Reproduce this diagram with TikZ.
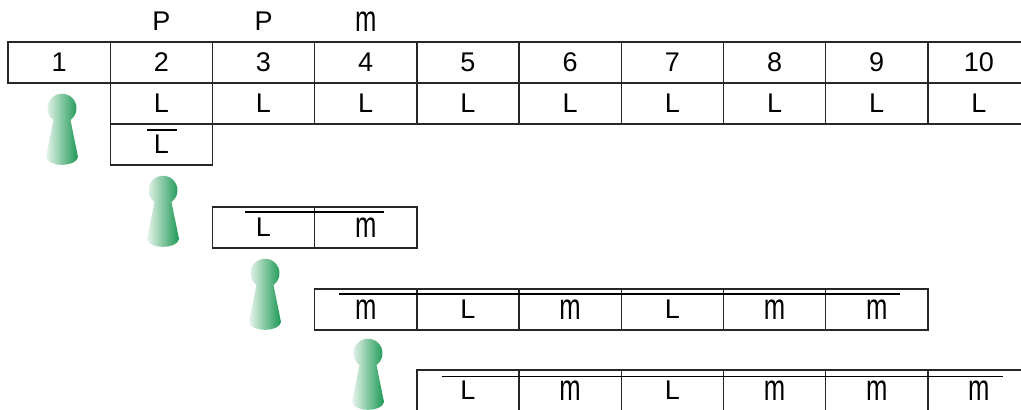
\documentclass[tikz,border=0pt]{standalone}
\usepackage{fontspec}
\setmainfont{Liberation Sans}
\usepackage{graphicx}
\usepackage{tikz}
\usetikzlibrary{positioning}
\definecolor{pawngreen}{RGB}{28,152,84}
\definecolor{pawnlight}{RGB}{234,246,238}
\newcommand\tallm{\scalebox{0.95}[1.35]{m}}

\begin{document}
\begin{tikzpicture}[
      x=0.5pt, y=-0.5pt,
      node distance=0pt,
      cell/.style={
         rectangle,
         draw=black!85,
         line width=0.7pt,
         minimum width=51.1pt,
         minimum height=20.5pt,
         inner sep=0pt,
         outer sep=0pt,
         font=\fontsize{13.5}{16}\selectfont
      },
      toplabel/.style={
         rectangle,
         minimum width=51.1pt,
         minimum height=20.5pt,
         inner sep=0pt,
         outer sep=0pt,
         font=\fontsize{13.5}{16}\selectfont
      },
      bar/.style={line width=0.85pt, draw=black},
      pawn/.pic={
         \shade[left color=pawnlight, right color=pawngreen]
            (-8.5,-45) arc[start angle=125.9, end angle=414.1, radius=14.5]
            -- (16,-8) .. controls (14,2.5) and (-14,2.5) .. (-16,-8) -- cycle;
      }
    ]
    \useasboundingbox (0,0) rectangle (1021,410);
    % numbered row
    \node (num1) [cell] at (59.1,62.5) {1};
    \node (num2) [cell, right=of num1] {2};
    \node (num3) [cell, right=of num2] {3};
    \node (num4) [cell, right=of num3] {4};
    \node (num5) [cell, right=of num4] {5};
    \node (num6) [cell, right=of num5] {6};
    \node (num7) [cell, right=of num6] {7};
    \node (num8) [cell, right=of num7] {8};
    \node (num9) [cell, right=of num8] {9};
    \node (num10) [cell, right=of num9] {10};
    % labels above
    \node (top2) [toplabel, above=of num2] {P};
    \node (top3) [toplabel, above=of num3] {P};
    \node (top4) [toplabel, above=of num4] {\tallm};
    % L row
    \node (l2) [cell, below=of num2] {L};
    \node (l3) [cell, right=of l2] {L};
    \node (l4) [cell, right=of l3] {L};
    \node (l5) [cell, right=of l4] {L};
    \node (l6) [cell, right=of l5] {L};
    \node (l7) [cell, right=of l6] {L};
    \node (l8) [cell, right=of l7] {L};
    \node (l9) [cell, right=of l8] {L};
    \node (l10) [cell, right=of l9] {L};
    \node (b2) [cell, below=of l2] {L};
    % second step
    \node (q3) [cell] at (263.5,227.5) {L};
    \node (q4) [cell, right=of q3] {\tallm};
    % third step
    \node (s4) [cell] at (365.7,309.5) {\tallm};
    \node (s5) [cell, right=of s4] {L};
    \node (s6) [cell, right=of s5] {\tallm};
    \node (s7) [cell, right=of s6] {L};
    \node (s8) [cell, right=of s7] {\tallm};
    \node (s9) [cell, right=of s8] {\tallm};
    % fourth step
    \node (t5) [cell] at (467.9,390.5) {L};
    \node (t6) [cell, right=of t5] {\tallm};
    \node (t7) [cell, right=of t6] {L};
    \node (t8) [cell, right=of t7] {\tallm};
    \node (t9) [cell, right=of t8] {\tallm};
    \node (t10) [cell, right=of t9] {\tallm};
    % bars
    \draw[bar] ([xshift=-7pt,yshift=-3pt]b2.north) -- ([xshift=8pt,yshift=-3pt]b2.north);
    \draw[bar] ([xshift=-9.2pt,yshift=-2.6pt]q3.north) -- ([xshift=9pt,yshift=-2.6pt]q4.north);
    \draw[bar] ([xshift=-13.5pt,yshift=-2.6pt]s4.north) -- ([xshift=11.6pt,yshift=-2.6pt]s9.north);
    \draw[bar] ([xshift=-13pt,yshift=-3.2pt]t5.north) -- ([xshift=12pt,yshift=-3.2pt]t10.north);
    % pawns
    \pic (pawnA) at (62,165) {pawn};
    \pic (pawnB) at (163,247) {pawn};
    \pic (pawnC) at (265,330) {pawn};
    \pic (pawnD) at (368,410) {pawn};
\end{tikzpicture}
\end{document}
